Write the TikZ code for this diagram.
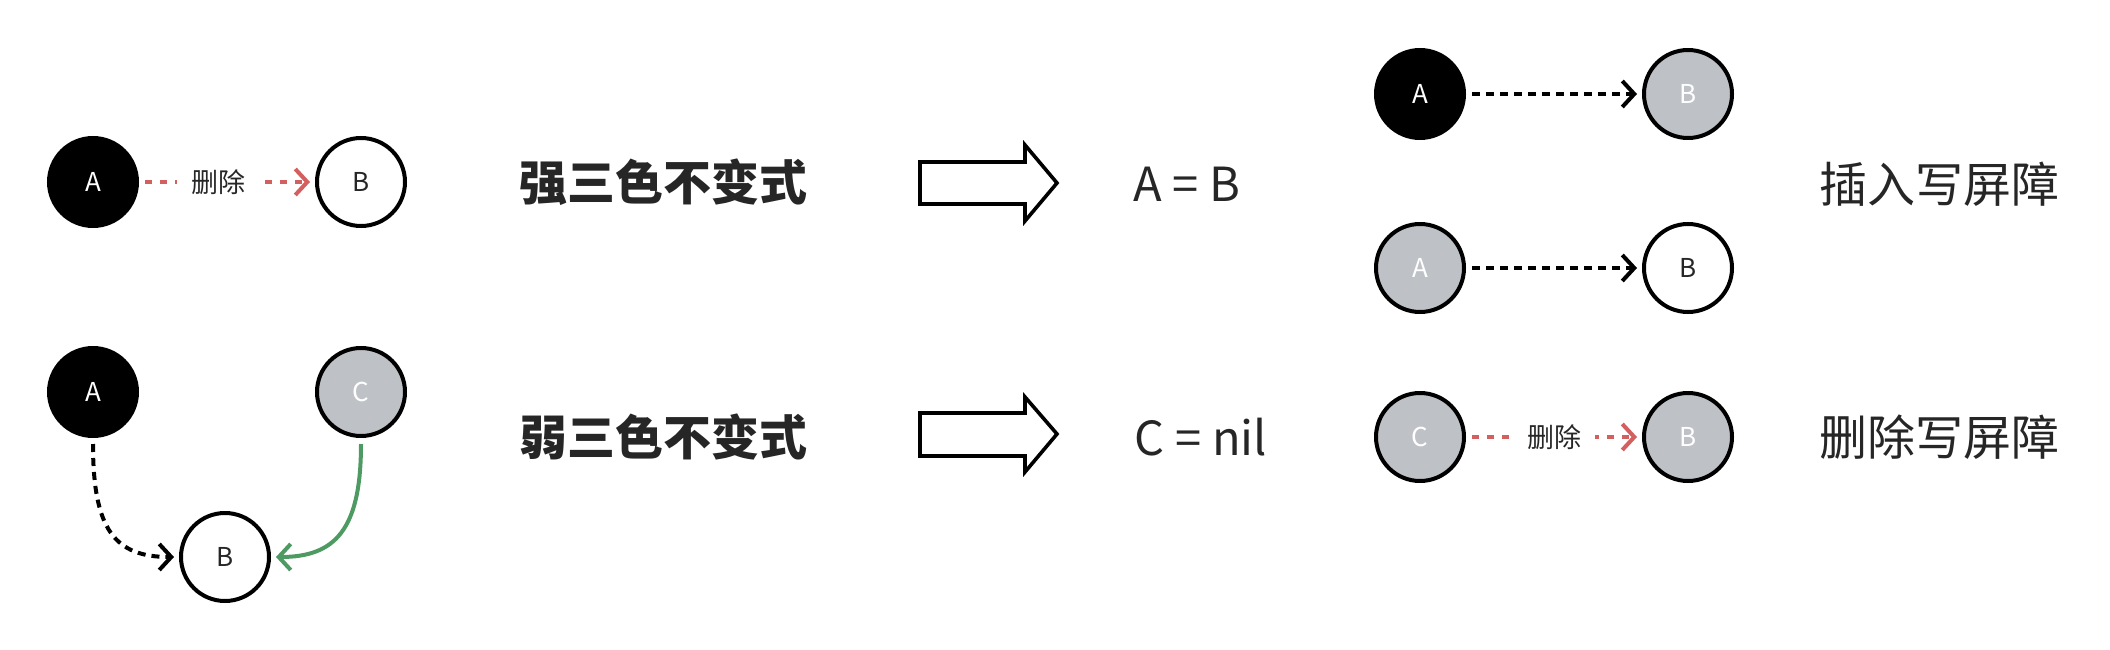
\documentclass[tikz,border=0pt]{standalone}
\usepackage{fontspec}
\newfontfamily\cjk{Noto Sans CJK SC}
\usetikzlibrary{arrows.meta}
\definecolor{txt}{HTML}{262626}
\definecolor{grayc}{HTML}{BEC1C6}
\definecolor{redc}{HTML}{D45F5F}
\definecolor{greenc}{HTML}{4E9A63}
\tikzset{
  circ/.style={circle, draw=black, line width=4pt, minimum size=88pt, inner sep=0pt,
    font=\cjk\fontsize{26}{26}\selectfont},
  blk/.style={circ, fill=black, text=white},
  gry/.style={circ, fill=grayc, text=white},
  wht/.style={circ, fill=white, text=txt},
  tip/.style={-{Straight Barb[length=12pt,width=26pt]}},
  blkdash/.style={tip, line width=4pt, dash pattern=on 8pt off 6pt, shorten <=6pt, shorten >=5pt},
  reddash/.style={tip, draw=redc, line width=4pt, dash pattern=on 7pt off 8pt, shorten <=6pt, shorten >=5pt},
  lbl/.style={fill=white, text=txt, inner xsep=14pt, inner ysep=2pt, font=\cjk\fontsize{27}{27}\selectfont},
  title/.style={text=txt, font=\cjk\bfseries\fontsize{48}{48}\selectfont},
  barrier/.style={text=txt, font=\cjk\fontsize{48}{48}\selectfont},
  eqn/.style={text=txt, font=\cjk\fontsize{47}{47}\selectfont},
  bigarrow/.style={draw=black, line width=3.6pt, line join=miter},
}
\begin{document}
\begin{tikzpicture}[x=1pt, y=-1pt]
\useasboundingbox (0,0) rectangle (2110,650);
% left top
\node[blk] (A1) at (93,182) {A};
\node[wht] (B1) at (361,182) {B};
\draw[reddash] (A1) -- node[lbl, pos=0.45] (L1) {删除} (B1);
% left bottom
\node[blk] (A2) at (93,392) {A};
\node[gry] (C2) at (361,392) {C};
\node[wht] (B2) at (225,557) {B};
\draw[blkdash] (A2.south) .. controls (93,530) and (115,557) .. (B2.west);
\draw[tip, draw=greenc, line width=4pt, shorten <=6pt, shorten >=5pt]
  (C2.south) .. controls (361,530) and (335,557) .. (B2.east);
% titles
\node[title] (T1) at (663,182) {强三色不变式};
\node[title] (T2) at (663,437) {弱三色不变式};
% block arrows
\draw[bigarrow] (920,162) -- (1025,162) -- (1025,145) -- (1057,183) -- (1025,221) -- (1025,204) -- (920,204) -- cycle;
\draw[bigarrow] (920,413) -- (1025,413) -- (1025,397) -- (1057,434) -- (1025,472) -- (1025,456) -- (920,456) -- cycle;
% equations
\node[eqn] (E1) at (1187,184) {A = B};
\node[eqn] (E2) at (1201,437) {C = nil};
% right side
\node[blk] (A3) at (1420,94) {A};
\node[gry] (B3) at (1688,94) {B};
\draw[blkdash] (A3) -- (B3);
\node[gry] (A4) at (1420,268) {A};
\node[wht] (B4) at (1688,268) {B};
\draw[blkdash] (A4) -- (B4);
\node[gry] (C5) at (1420,437) {C};
\node[gry] (B5) at (1688,437) {B};
\draw[reddash] (C5) -- node[lbl, pos=0.5] (L5) {删除} (B5);
\node[barrier] (W1) at (1939,184) {插入写屏障};
\node[barrier] (W2) at (1939,437) {删除写屏障};
\end{tikzpicture}
\end{document}
